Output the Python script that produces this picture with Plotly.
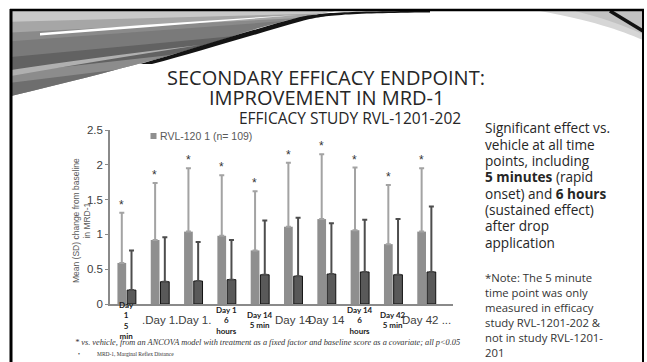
import base64
import plotly.graph_objects as go

# ---- data -------------------------------------------------------------
timepoints = ["Day 1 5 min", "Day 1 ...", "Day 1 ..", "Day 1 6 hours", "Day 14 5 min",
              "Day 14 .", "Day 14 ..", "Day 14 6 hours", "Day 42 5 min", "Day 42 ..."]
tick_labels = ["Day<br>1<br>5<br>min", ".Day 1.", ".Day 1.", "Day 1<br>6<br>hours",
               "Day 14<br>5 min", "Day 14", "Day 14", "Day 14<br>6<br>hours",
               "Day 42<br>5 min", "Day 42 ..."]
tick_bold = [True, False, False, True, True, False, False, True, True, False]

rvl_name = "RVL-120 1 (n= 109)"
rvl_mean = [0.59, 0.92, 1.04, 0.98, 0.77, 1.11, 1.22, 1.06, 0.86, 1.04]
rvl_sd = [0.72, 0.82, 0.91, 0.87, 0.85, 0.92, 0.93, 0.90, 0.85, 0.91]

veh_name = "Vehicle"
veh_mean = [0.20, 0.32, 0.33, 0.35, 0.42, 0.40, 0.43, 0.46, 0.42, 0.46]
veh_sd = [0.57, 0.64, 0.56, 0.57, 0.78, 0.84, 0.73, 0.75, 0.80, 0.94]

y_ticks = [0, 0.5, 1, 1.5, 2, 2.5]

# ---- page geometry (pixels) -------------------------------------------
W, H = 647, 362
PL, PR, PT, PB = 110, 453, 130, 304


def px(x):
    return (x - PL) / (PR - PL)


def py(y):
    return (PB - y) / (PB - PT)


LIGHT = "#8f8f8f"
DARK = "#595959"
TXT = "#262626"

fig = go.Figure()
fig.add_trace(go.Bar(
    x=timepoints, y=rvl_mean, name=rvl_name, marker_color=LIGHT,
    marker_line_width=0,
    error_y=dict(type="data", array=rvl_sd, arrayminus=[0] * len(rvl_sd),
                 symmetric=False, color="#a3a3a3", thickness=2, width=2.5),
    showlegend=False,
))
fig.add_trace(go.Bar(
    x=timepoints, y=veh_mean, name=veh_name, marker_color=DARK,
    marker_line=dict(color="#111111", width=1),
    error_y=dict(type="data", array=veh_sd, arrayminus=[0] * len(veh_sd),
                 symmetric=False, color="#4d4d4d", thickness=2, width=2.5),
    showlegend=False,
))

annotations = []
# significance markers above the RVL error bars
for t, m, s in zip(timepoints, rvl_mean, rvl_sd):
    annotations.append(dict(x=t, y=m + s, xref="x", yref="y", text="*", showarrow=False,
                            xanchor="center", yanchor="bottom", xshift=-5, yshift=-1,
                            font=dict(family="Liberation Sans", size=12, color="#333333")))

# category labels under the axis
for i, (lab, bold) in enumerate(zip(tick_labels, tick_bold)):
    if bold:
        font = dict(family="Lato", size=8, color="#1a1a1a")
        text = "<b>" + lab + "</b>"
    else:
        font = dict(family="Liberation Sans", size=11.5, color="#404040")
        text = lab
    annotations.append(dict(x=timepoints[i], xref="x", y=py(320), yref="paper",
                            text=text, showarrow=False, font=font,
                            xanchor="center", yanchor="middle"))

# y-axis title
annotations.append(dict(x=px(81), y=py(221), xref="paper", yref="paper",
                        text="Mean (SD) change from baseline<br>in MRD-1",
                        textangle=-90, showarrow=False, xanchor="center", yanchor="middle",
                        font=dict(family="Liberation Sans", size=8.5, color="#595959")))

# legend entry
annotations.append(dict(x=px(158), y=py(136), xref="paper", yref="paper",
                        text=rvl_name, showarrow=False, xanchor="left", yanchor="middle",
                        font=dict(family="Liberation Sans", size=10.5, color="#595959")))

# slide title and chart title
annotations.append(dict(x=px(326), y=py(78), xref="paper", yref="paper",
                        text="SECONDARY EFFICACY ENDPOINT:", showarrow=False,
                        xanchor="center", yanchor="middle",
                        font=dict(family="Open Sans", size=20, color=TXT)))
annotations.append(dict(x=px(326), y=py(97), xref="paper", yref="paper",
                        text="IMPROVEMENT IN MRD-1", showarrow=False,
                        xanchor="center", yanchor="middle",
                        font=dict(family="Open Sans", size=20, color=TXT)))
annotations.append(dict(x=px(350), y=py(118), xref="paper", yref="paper",
                        text="EFFICACY STUDY RVL-1201-202", showarrow=False,
                        xanchor="center", yanchor="middle",
                        font=dict(family="Open Sans", size=15.5, color=TXT)))

# side commentary
side_lines = ["Significant effect vs.", "vehicle at all time", "points, including",
              "<b>5 minutes</b> (rapid", "onset) and <b>6 hours</b>", "(sustained effect)",
              "after drop", "application"]
for k, line in enumerate(side_lines):
    annotations.append(dict(x=px(483), y=py(128 + 16.3 * k), xref="paper", yref="paper",
                            text=line, showarrow=False, xanchor="left", yanchor="middle",
                            font=dict(family="Open Sans", size=13.6, color=TXT)))
note_lines = ["*Note: The 5 minute", "time point was only", "measured in efficacy",
              "study RVL-1201-202 &", "not in study RVL-1201-", "201"]
for k, line in enumerate(note_lines):
    annotations.append(dict(x=px(483), y=py(277 + 15 * k), xref="paper", yref="paper",
                            text=line, showarrow=False, xanchor="left", yanchor="middle",
                            font=dict(family="Open Sans", size=11.3, color="#333333")))

# footnotes
annotations.append(dict(x=px(73), y=py(342), xref="paper", yref="paper",
                        text="<i>* vs. vehicle, from an ANCOVA model with treatment as a fixed factor "
                             "and baseline score as a covariate; all p&lt;0.05</i>",
                        showarrow=False, xanchor="left", yanchor="middle",
                        font=dict(family="Liberation Serif", size=8.3, color="#333333")))
annotations.append(dict(x=px(76), y=py(354), xref="paper", yref="paper",
                        text="\u2022", showarrow=False, xanchor="left", yanchor="middle",
                        font=dict(family="Liberation Serif", size=5.5, color="#333333")))
annotations.append(dict(x=px(95), y=py(354), xref="paper", yref="paper",
                        text="MRD-1, Marginal Reflex Distance", showarrow=False,
                        xanchor="left", yanchor="middle",
                        font=dict(family="Liberation Serif", size=5.5, color="#333333")))

# slide background artwork: grey sweep in the top corners
wedge = "M11,11 L335,11 C300,16 262,26 230,37 C190,50 120,70 11,96 Z"
sweep_svg = f"""<svg xmlns="http://www.w3.org/2000/svg" width="{W}" height="{H}"
 viewBox="0 0 {W} {H}" preserveAspectRatio="none">
<defs>
 <clipPath id="c1"><path d="{wedge}"/></clipPath>
</defs>
<g clip-path="url(#c1)">
 <rect x="0" y="0" width="340" height="100" fill="#8a8a8a"/>
 <path d="M0,11 L340,11 L340,14 L0,24 Z" fill="#c8c8c8"/>
 <path d="M0,22 L340,13 L340,16 L0,33 Z" fill="#a6a6a6"/>
 <path d="M0,42 L340,17 L340,30 L0,62 Z" fill="#7a7a7a"/>
 <path d="M0,58 L340,26 L340,40 L0,76 Z" fill="#626262"/>
 <path d="M0,74 L340,36 L340,44 L0,84 Z" fill="#8c8c8c"/>
 <path d="M0,84 L340,42 L340,60 L0,100 Z" fill="#6e6e6e"/>
 <path d="M40,33 Q170,22 298,15 Q170,25.5 40,35.5 Z" fill="#ffffff"/>
 <path d="M11,70 Q90,58 200,45 Q90,62 11,76 Z" fill="#b0b0b0"/>
</g>
<path d="M140,64 C190,50 250,30 300,17 C320,13 345,11 430,11 L430,12.5 C345,13 322,15.5 302,21 C252,35 195,53 152,64 Z" fill="#141414"/>
<path d="M540,11 L643,11 L643,40 C620,30 590,20 540,11 Z" fill="#d6d6d6"/>
<path d="M575,11 L643,11 L643,34 C625,26 600,17 575,11 Z" fill="#c2c2c2"/>
<path d="M610,11 L643,31" stroke="#111111" stroke-width="3.5" fill="none"/>
</svg>"""
sweep_src = "data:image/svg+xml;base64," + base64.b64encode(sweep_svg.encode()).decode()

shapes = []
# slide frame
shapes.append(dict(type="line", xref="paper", yref="paper", x0=px(11), x1=px(11),
                   y0=py(9), y1=py(362), line=dict(color="#000000", width=3)))
shapes.append(dict(type="line", xref="paper", yref="paper", x0=px(10), x1=px(644),
                   y0=py(10), y1=py(10), line=dict(color="#000000", width=2.5)))
shapes.append(dict(type="line", xref="paper", yref="paper", x0=px(643), x1=px(643),
                   y0=py(9), y1=py(362), line=dict(color="#000000", width=2)))
# legend swatch
shapes.append(dict(type="rect", xref="paper", yref="paper", x0=px(150.5), x1=px(156.5),
                   y0=py(139), y1=py(133), fillcolor=LIGHT, line_width=0))

fig.update_layout(
    width=W, height=H,
    margin=dict(l=PL, r=W - PR, t=PT, b=H - PB, pad=0),
    paper_bgcolor="white", plot_bgcolor="white",
    barmode="group", bargap=0.417, bargroupgap=0.1,
    showlegend=False,
    xaxis=dict(showticklabels=False, showgrid=False, zeroline=False,
               showline=True, linecolor="#8a8a8a", linewidth=1.5, ticks=""),
    yaxis=dict(range=[0, 2.5], tickvals=y_ticks, ticktext=[f"{v:g}" for v in y_ticks],
               showgrid=False, zeroline=False, showline=True, linecolor="#8a8a8a",
               linewidth=1.5, ticks="outside", ticklen=3, tickcolor="#8a8a8a",
               tickfont=dict(family="Liberation Sans", size=11.5, color="#404040")),
    images=[dict(source=sweep_src, xref="paper", yref="paper", x=px(0), y=py(0),
                 sizex=W / (PR - PL), sizey=H / (PB - PT), sizing="stretch",
                 xanchor="left", yanchor="top", layer="above")],
    annotations=annotations, shapes=shapes,
)

fig.write_html("out.html")
